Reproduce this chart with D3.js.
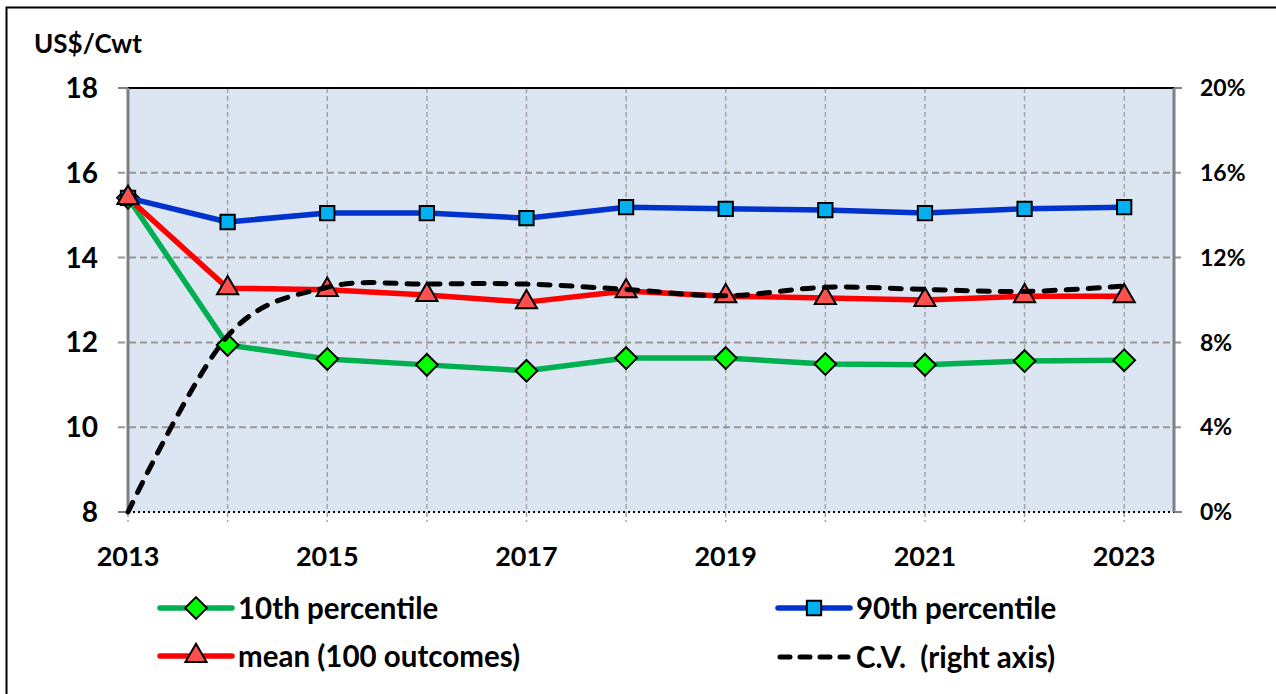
<!DOCTYPE html>
<html>
<head>
<meta charset="utf-8">
<script src="https://cdn.jsdelivr.net/npm/d3@7"></script>
<style>
  body { margin: 0; background: #fff; }
  svg text { font-family: Lato, "Open Sans", sans-serif; font-weight: 700; fill: #000; white-space: pre; }
</style>
</head>
<body>
<div class="chartCont"></div>
<script>
const years = [2013, 2014, 2015, 2016, 2017, 2018, 2019, 2020, 2021, 2022, 2023];
const p10 = [15.41, 11.94, 11.61, 11.47, 11.33, 11.63, 11.63, 11.49, 11.47, 11.56, 11.58];
const p90 = [15.41, 14.84, 15.05, 15.05, 14.93, 15.19, 15.15, 15.12, 15.05, 15.15, 15.19];
const mean = [15.41, 13.28, 13.24, 13.12, 12.95, 13.21, 13.09, 13.05, 13.0, 13.09, 13.09];
const cv = [0, 8.3, 10.6, 10.75, 10.75, 10.5, 10.2, 10.6, 10.5, 10.4, 10.66];
const leftTicks = [8, 10, 12, 14, 16, 18];
const rightTicks = [0, 4, 8, 12, 16, 20];
const xLabels = [2013, 2015, 2017, 2019, 2021, 2023];

const w = 1276;
const h = 694;

const svg = d3.select(".chartCont").append("svg")
    .attr("width", w)
    .attr("height", h);

// outer frame (only left/top visible in the picture)
svg.append("rect")
    .attr("x", 6.5).attr("y", 7.5)
    .attr("width", 1300).attr("height", 700)
    .attr("fill", "none").attr("stroke", "#000").attr("stroke-width", 2);

const pL = 128, pR = 1174, pT = 88, pB = 512;

const x = d3.scaleLinear().domain([2013, 2023.5]).range([pL, pR]);
const y = d3.scaleLinear().domain([8, 18]).range([pB, pT]);
const y2 = d3.scaleLinear().domain([0, 20]).range([pB, pT]);

svg.append("rect")
    .attr("x", pL).attr("y", pT)
    .attr("width", pR - pL).attr("height", pB - pT)
    .attr("fill", "#dce6f2");

// grid
const grid = svg.append("g");
grid.selectAll(".vg")
    .data(years.slice(1))
    .enter().append("line")
    .attr("x1", d => x(d)).attr("x2", d => x(d))
    .attr("y1", pT).attr("y2", pB + 10)
    .attr("stroke", "#a6a6a6").attr("stroke-width", 1.5)
    .attr("stroke-dasharray", "5,3");
grid.append("line")
    .attr("x1", x(2013)).attr("x2", x(2013))
    .attr("y1", pB).attr("y2", pB + 10)
    .attr("stroke", "#a6a6a6").attr("stroke-width", 1.5)
    .attr("stroke-dasharray", "5,3");
grid.selectAll(".hg")
    .data(leftTicks.slice(1, -1))
    .enter().append("line")
    .attr("x1", pL - 10).attr("x2", pR + 8)
    .attr("y1", d => y(d)).attr("y2", d => y(d))
    .attr("stroke", "#969696").attr("stroke-width", 2)
    .attr("stroke-dasharray", "7,4");

// axes lines
svg.append("line")
    .attr("x1", pL).attr("x2", pR).attr("y1", pT).attr("y2", pT)
    .attr("stroke", "#000").attr("stroke-width", 2);
svg.append("line")
    .attr("x1", pL).attr("x2", pR).attr("y1", pB).attr("y2", pB)
    .attr("stroke", "#000").attr("stroke-width", 2).attr("stroke-dasharray", "2,3");
svg.append("line")
    .attr("x1", pL).attr("x2", pL).attr("y1", pT).attr("y2", pB)
    .attr("stroke", "#808080").attr("stroke-width", 3);
svg.append("line")
    .attr("x1", pR).attr("x2", pR).attr("y1", pT).attr("y2", pB)
    .attr("stroke", "#808080").attr("stroke-width", 3);
svg.selectAll(".lt")
    .data([8, 18])
    .enter().append("line")
    .attr("x1", pL - 10).attr("x2", pL)
    .attr("y1", d => y(d)).attr("y2", d => y(d))
    .attr("stroke", "#808080").attr("stroke-width", 2);
svg.selectAll(".rt")
    .data([0, 20])
    .enter().append("line")
    .attr("x1", pR).attr("x2", pR + 8)
    .attr("y1", d => y2(d)).attr("y2", d => y2(d))
    .attr("stroke", "#808080").attr("stroke-width", 2);

// tick labels
svg.selectAll(".ylab")
    .data(leftTicks)
    .enter().append("text")
    .attr("x", 98).attr("y", d => y(d))
    .attr("dy", "0.36em")
    .attr("text-anchor", "end")
    .style("font-size", "28px")
    .text(d => d);
svg.selectAll(".y2lab")
    .data(rightTicks)
    .enter().append("text")
    .attr("x", 1200).attr("y", d => y2(d))
    .attr("dy", "0.36em")
    .style("font-size", "23px")
    .text(d => d + "%");
svg.selectAll(".xlab")
    .data(xLabels)
    .enter().append("text")
    .attr("x", d => x(d)).attr("y", 556)
    .attr("dy", "0.36em")
    .attr("text-anchor", "middle")
    .style("font-size", "27px")
    .text(d => d);
svg.append("text")
    .attr("x", 34).attr("y", 44)
    .attr("dy", "0.36em")
    .style("font-size", "26px")
    .text("US$/Cwt");

// series
const straight = d3.line()
    .x((d, i) => x(years[i]))
    .y(d => y(d));
const smooth = d3.line()
    .x((d, i) => x(years[i]))
    .y(d => y2(d))
    .curve(d3.curveCatmullRom.alpha(0));

const diamond = d3.symbol().type(d3.symbolDiamond2).size(300)();
const square = d3.symbol().type(d3.symbolSquare2).size(260)();
const triangle = d3.symbol().type(d3.symbolTriangle2).size(320)();

const series = [
  {vals: p10, line: "#00b050", fill: "#00ff00", shape: diamond},
  {vals: p90, line: "#0033cc", fill: "#00b0f0", shape: square},
  {vals: mean, line: "#ff0000", fill: "#ff5050", shape: triangle}
];

series.forEach(s => {
  svg.append("path")
      .datum(s.vals)
      .attr("d", straight)
      .attr("fill", "none")
      .attr("stroke", s.line)
      .attr("stroke-width", 5.5)
      .attr("stroke-linejoin", "round");
  svg.selectAll(null)
      .data(s.vals)
      .enter().append("path")
      .attr("d", s.shape)
      .attr("transform", (d, i) => `translate(${x(years[i])},${y(d)})`)
      .attr("fill", s.fill)
      .attr("stroke", "#000")
      .attr("stroke-width", 2);
});

svg.append("path")
    .datum(cv)
    .attr("d", smooth)
    .attr("fill", "none")
    .attr("stroke", "#000")
    .attr("stroke-width", 5)
    .attr("stroke-linecap", "round")
    .attr("stroke-dasharray", "11,11");

// legend
const legendItems = [
  {label: "10th percentile", lx: 160, ly: 608, s: series[0]},
  {label: "mean (100 outcomes)", lx: 160, ly: 656, s: series[2]},
  {label: "90th percentile", lx: 778, ly: 608, s: series[1]},
  {label: "C.V.  (right axis)", lx: 778, ly: 657, s: null}
];
const lg = svg.append("g");
legendItems.forEach(it => {
  const g = lg.append("g").attr("transform", `translate(${it.lx},${it.ly})`);
  if (it.s) {
    g.append("line")
        .attr("x1", 0).attr("x2", 72)
        .attr("stroke", it.s.line).attr("stroke-width", 5.5)
        .attr("stroke-linecap", "round");
    g.append("path")
        .attr("d", it.s.shape)
        .attr("transform", "translate(36,0)")
        .attr("fill", it.s.fill)
        .attr("stroke", "#000")
        .attr("stroke-width", 2);
  } else {
    g.append("line")
        .attr("x1", 2).attr("x2", 70)
        .attr("stroke", "#000").attr("stroke-width", 5)
        .attr("stroke-linecap", "round")
        .attr("stroke-dasharray", "10,10");
  }
  g.append("text")
      .attr("x", 78).attr("y", 0)
      .attr("dy", "0.36em")
      .style("font-size", "29.5px")
      .text(it.label);
});
</script>
</body>
</html>
